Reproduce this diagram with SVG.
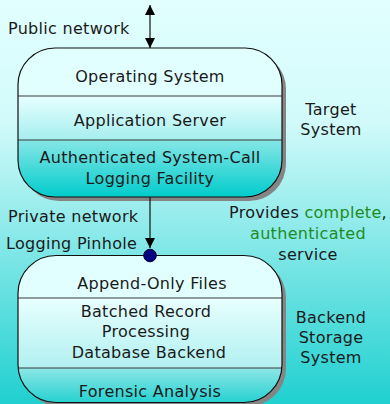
<svg xmlns="http://www.w3.org/2000/svg" width="390" height="404" viewBox="0 0 390 404">
  <style>
    text { font-family: "DejaVu Sans", Verdana, sans-serif; font-size: 16px; fill: #1a1a1a; letter-spacing: 0.3px; }
    .c { text-anchor: middle; }
    .hl { fill: #1e8c1e; }
    .outline { fill: none; stroke: #111; stroke-width: 1.2; }
    .shadow { fill: #858585; }
    .divider { stroke: #3a3a3a; stroke-width: 1.2; }
    .wire { stroke: #111; stroke-width: 1.2; fill: none; }
  </style>
  <defs>
    <linearGradient id="bg" x1="0" y1="0" x2="0" y2="1">
      <stop offset="0" stop-color="#e2ffff"/>
      <stop offset="0.3" stop-color="#d2fafa"/>
      <stop offset="1" stop-color="#20d0d0"/>
    </linearGradient>
    <linearGradient id="midTop" x1="0" y1="0" x2="0" y2="1">
      <stop offset="0" stop-color="#e6ffff"/>
      <stop offset="1" stop-color="#a6eeee"/>
    </linearGradient>
    <linearGradient id="lowTop" x1="0" y1="0" x2="0" y2="1">
      <stop offset="0" stop-color="#86e6e6"/>
      <stop offset="1" stop-color="#02cccc"/>
    </linearGradient>
    <linearGradient id="midBot" x1="0" y1="0" x2="0" y2="1">
      <stop offset="0" stop-color="#e8ffff"/>
      <stop offset="1" stop-color="#b2f0f0"/>
    </linearGradient>
    <linearGradient id="lowBot" x1="0" y1="0" x2="0" y2="1">
      <stop offset="0" stop-color="#8ee6e6"/>
      <stop offset="1" stop-color="#22d0d0"/>
    </linearGradient>
    <clipPath id="clipTop"><rect x="18" y="48" width="264" height="149" rx="37" ry="37"/></clipPath>
    <clipPath id="clipBot"><rect x="18" y="255.5" width="264" height="147" rx="38" ry="38"/></clipPath>
    <marker id="head" viewBox="0 0 10 14" refX="10" refY="7" markerWidth="10" markerHeight="14" markerUnits="userSpaceOnUse" orient="auto-start-reverse">
      <path d="M0,2 L10,7 L0,12 Z" fill="#000"/>
    </marker>
  </defs>

  <rect width="390" height="404" fill="url(#bg)"/>

  <!-- target system -->
  <g id="target-system">
    <rect class="shadow" x="22" y="52" width="264" height="149" rx="37" ry="37"/>
    <g clip-path="url(#clipTop)">
      <rect x="18" y="48" width="264" height="48" fill="#e2ffff"/>
      <rect x="18" y="96" width="264" height="44" fill="url(#midTop)"/>
      <rect x="18" y="140" width="264" height="57" fill="url(#lowTop)"/>
    </g>
    <line class="divider" x1="18" y1="96" x2="282" y2="96"/>
    <line class="divider" x1="18" y1="140" x2="282" y2="140"/>
    <rect class="outline" x="18" y="48" width="264" height="149" rx="37" ry="37"/>
    <text class="c" x="150" y="82">Operating System</text>
    <text class="c" x="150" y="126">Application Server</text>
    <text class="c" x="150" y="163">Authenticated System-Call</text>
    <text class="c" x="150" y="184">Logging Facility</text>
  </g>

  <!-- backend storage -->
  <g id="backend-storage">
    <rect class="shadow" x="22" y="259.5" width="264" height="147" rx="38" ry="38"/>
    <g clip-path="url(#clipBot)">
      <rect x="18" y="255" width="264" height="43" fill="#e2ffff"/>
      <rect x="18" y="298" width="264" height="70" fill="url(#midBot)"/>
      <rect x="18" y="368" width="264" height="36" fill="url(#lowBot)"/>
    </g>
    <line class="divider" x1="18" y1="298" x2="282" y2="298"/>
    <line class="divider" x1="18" y1="368" x2="282" y2="368"/>
    <rect class="outline" x="18" y="255.5" width="264" height="147" rx="38" ry="38"/>
    <text class="c" x="152" y="289">Append-Only Files</text>
    <text class="c" x="146" y="317">Batched Record</text>
    <text class="c" x="146" y="337">Processing</text>
    <text class="c" x="149" y="358">Database Backend</text>
    <text class="c" x="150" y="397">Forensic Analysis</text>
  </g>

  <!-- connectors -->
  <g id="connectors">
    <line class="wire" x1="150" y1="5" x2="150" y2="48" marker-start="url(#head)" marker-end="url(#head)"/>
    <line class="wire" x1="150" y1="197" x2="150" y2="248" marker-end="url(#head)"/>
    <circle cx="150" cy="255.5" r="6.3" fill="#000080" stroke="#000030" stroke-width="1"/>
  </g>

  <!-- annotations -->
  <g id="labels">
    <text x="8" y="34">Public network</text>
    <text class="c" x="331" y="115">Target</text>
    <text class="c" x="331" y="135">System</text>
    <text x="8" y="222">Private network</text>
    <text x="6" y="249">Logging Pinhole</text>
    <text class="c" x="308" y="218">Provides <tspan class="hl">complete</tspan>,</text>
    <text class="c hl" x="308" y="239">authenticated</text>
    <text class="c" x="308" y="260">service</text>
    <text class="c" x="331" y="323">Backend</text>
    <text class="c" x="331" y="343">Storage</text>
    <text class="c" x="331" y="363">System</text>
  </g>
</svg>
